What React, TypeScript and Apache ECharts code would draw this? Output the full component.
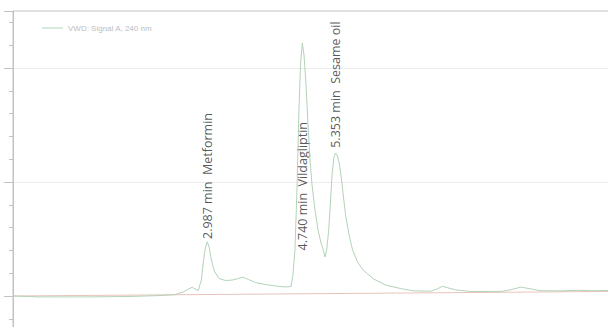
import React, { useEffect, useRef } from "react";
import * as echarts from "echarts";

// Detector trace: retention time (min) and signal (mAU)
const traceTime = [
  -0.6, -0.1, 0.82, 1.56, 2.12, 2.4, 2.54, 2.64, 2.71, 2.78, 2.82, 2.876, 2.913, 2.95, 2.987,
  3.024, 3.061, 3.116, 3.199, 3.32, 3.449, 3.56, 3.652, 3.745, 3.874, 4.059, 4.244, 4.429,
  4.53, 4.567, 4.604, 4.641, 4.678, 4.706, 4.74, 4.771, 4.808, 4.845, 4.882, 4.919, 4.974,
  5.03, 5.085, 5.113, 5.159, 5.191, 5.224, 5.256, 5.288, 5.321, 5.353, 5.39, 5.427, 5.464,
  5.501, 5.538, 5.603, 5.667, 5.76, 5.862, 6.056, 6.278, 6.555, 6.795, 7.11, 7.22, 7.326,
  7.424, 7.572, 7.849, 8.404, 8.589, 8.773, 8.958, 9.143, 9.513, 9.827, 10.068, 10.4,
];
const traceSignal = [
  0, -0.8, -0.8, -0.4, 0.4, 1.3, 3.5, 6.1, 7.7, 5.7, 4.8, 14.0, 29.8, 42.1, 47.6,
  42.1, 31.6, 21.9, 15.4, 13.6, 14.0, 15.4, 16.4, 14.5, 11.8, 10.1, 8.8, 7.9,
  8.3, 18.4, 40.4, 93.0, 163.2, 202.6, 222, 211.4, 185.1, 150, 119.3, 97.4, 75.4,
  57.9, 46.5, 42.9, 34.2, 41.2, 56.1, 79.8, 106.1, 121.1, 125.4, 122.8, 114.9, 101.8,
  86.0, 71.1, 53.5, 40.4, 29.8, 22.8, 14.9, 9.6, 6.5, 4.5, 4.2, 6.0, 8.5,
  7.2, 5.3, 4.0, 4.0, 5.5, 7.8, 6.2, 4.6, 4.5, 5.0, 4.6, 4.8,
];

// Integration baseline
const baselineTime = [-0.6, 10.4];
const baselineSignal = [0, 4];

// Identified peaks
const peakTimes = [2.987, 4.74, 5.353];
const peakNames = ["Metformin", "Vildagliptin", "Sesame oil"];
const labelHeights = [50, 40, 130];

const signalName = "VWD: Signal A, 240 nm";

export default function App() {
  const ref = useRef<HTMLDivElement>(null);

  useEffect(() => {
    if (!ref.current) return;
    const chart = echarts.init(ref.current, null, { renderer: "svg" });
    const axisGray = "#c2c2c2";
    const traceColor = "#b3d3b8";
    chart.setOption({
      animation: false,
      backgroundColor: "#ffffff",
      legend: {
        data: [signalName],
        left: 37,
        top: 19,
        icon: "rect",
        itemWidth: 21,
        itemHeight: 1,
        itemStyle: { color: traceColor },
        textStyle: { fontSize: 8, color: "#bdbdbd", fontFamily: "Liberation Sans" },
      },
      // plot frame: only its left and top edges fall on the page
      grid: {
        left: 13,
        right: -1,
        top: 11,
        bottom: -83,
        outerBoundsMode: "none",
        show: true,
        borderColor: axisGray,
        borderWidth: 1,
      },
      xAxis: { type: "value", min: -0.6, max: 10.4, show: false },
      yAxis: [
        {
          type: "value",
          position: "left",
          min: -100,
          max: 250,
          interval: 100,
          axisLine: { show: true, onZero: false, lineStyle: { color: axisGray, width: 1 } },
          axisTick: { show: true, length: 9, lineStyle: { color: axisGray } },
          axisLabel: { show: false },
          splitLine: {
            show: true,
            lineStyle: {
              color: ["transparent", "transparent", "#ececec", "#ececec", "transparent"],
            },
          },
        },
        {
          type: "value",
          position: "left",
          offset: 0,
          min: -100,
          max: 250,
          interval: 20,
          axisLine: { show: false, onZero: false },
          axisTick: { show: true, length: 4, lineStyle: { color: axisGray } },
          axisLabel: { show: false },
          splitLine: { show: false },
        },
      ],
      series: [
        {
          name: "baseline",
          type: "line",
          symbol: "none",
          silent: true,
          lineStyle: { color: "#e8c3b9", width: 1 },
          data: baselineTime.map((t, i) => [t, baselineSignal[i]]),
        },
        {
          name: signalName,
          type: "line",
          symbol: "none",
          color: traceColor,
          lineStyle: { color: traceColor, width: 1 },
          data: traceTime.map((t, i) => [t, traceSignal[i]]),
        },
        {
          name: "peaks",
          type: "scatter",
          symbolSize: 1,
          itemStyle: { color: "transparent" },
          data: peakTimes.map((t, i) => [t, labelHeights[i]]),
          label: {
            show: true,
            position: "inside",
            rotate: 90,
            align: "left",
            verticalAlign: "middle",
            fontFamily: "Open Sans",
            fontSize: 12.5,
            color: "#2e2e2e",
            formatter: (p: any) =>
              `${peakTimes[p.dataIndex].toFixed(3)} min\u00a0\u00a0${peakNames[p.dataIndex]}`,
          },
        },
      ],
    });
    return () => chart.dispose();
  }, []);

  return (
    <div
      ref={ref}
      style={{ position: "fixed", left: 0, top: 0, width: 608, height: 327 }}
    />
  );
}
